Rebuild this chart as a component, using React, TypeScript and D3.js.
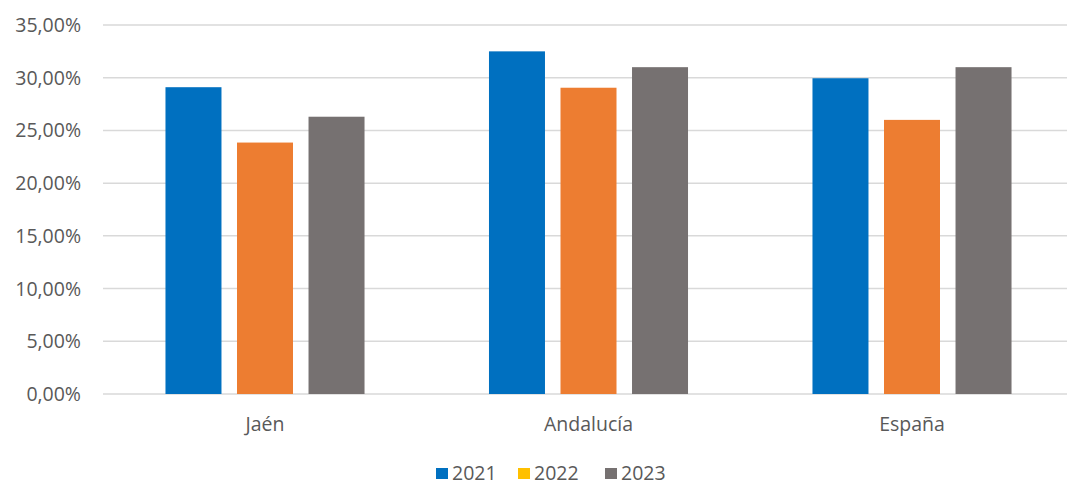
import React from "react";
import * as d3 from "d3";

const categories = ["Jaén", "Andalucía", "España"];
const seriesNames = ["2021", "2022", "2023"];
const values2021 = [29.1, 32.5, 29.95];
const values2022 = [23.85, 29.05, 26.0];
const values2023 = [26.3, 31.0, 31.0];
const yTicks = [0, 5, 10, 15, 20, 25, 30, 35];
const barColors = ["#0070C0", "#ED7D31", "#767171"];
const legendColors = ["#0070C0", "#FFC000", "#767171"];

const W = 1067;
const H = 485;
const FONT = "'Open Sans', 'Liberation Sans', sans-serif";
const TEXT = "#595959";

export default function App() {
  const seriesValues = [values2021, values2022, values2023];
  const y = d3.scaleLinear().domain([0, 35]).range([394, 25]);
  const x0 = d3
    .scaleBand<string>()
    .domain(categories)
    .range([103.25, 1073.75])
    .paddingInner(0)
    .paddingOuter(0);
  const x1 = d3
    .scaleBand<string>()
    .domain(seriesNames)
    .range([0, x0.bandwidth()])
    .paddingInner(0.217)
    .paddingOuter(0.87);
  const fmt = (v: number) => v.toFixed(2).replace(".", ",") + "%";

  const legendX = [436, 518, 605];

  return (
    <svg
      width={W}
      height={H}
      style={{ position: "absolute", left: 0, top: 0, background: "#fff" }}
      fontFamily={FONT}
    >
      <rect x={0} y={0} width={W} height={H} fill="#fff" />
      {yTicks.map((t) => (
        <g key={t}>
          <line
            x1={103}
            x2={W}
            y1={y(t)}
            y2={y(t)}
            stroke="#D9D9D9"
            strokeWidth={1.5}
          />
          <text
            x={81}
            y={y(t)}
            dy="0.36em"
            textAnchor="end"
            fontSize={19.5}
            fill={TEXT}
          >
            {fmt(t)}
          </text>
        </g>
      ))}
      {categories.map((c, ci) => (
        <g key={c} transform={`translate(${x0(c)},0)`}>
          {seriesNames.map((s, si) => {
            const v = seriesValues[si][ci];
            return (
              <rect
                key={s}
                x={x1(s)}
                y={y(v)}
                width={x1.bandwidth()}
                height={y(0) - y(v)}
                fill={barColors[si]}
              />
            );
          })}
          <text
            x={x0.bandwidth() / 2}
            y={431}
            textAnchor="middle"
            fontSize={19.5}
            fill={TEXT}
          >
            {c}
          </text>
        </g>
      ))}
      {seriesNames.map((s, si) => (
        <g key={s} transform={`translate(${legendX[si]},0)`}>
          <rect x={0} y={468} width={12} height={11} fill={legendColors[si]} />
          <text x={16} y={479.5} fontSize={19.5} fill={TEXT}>
            {s}
          </text>
        </g>
      ))}
    </svg>
  );
}
